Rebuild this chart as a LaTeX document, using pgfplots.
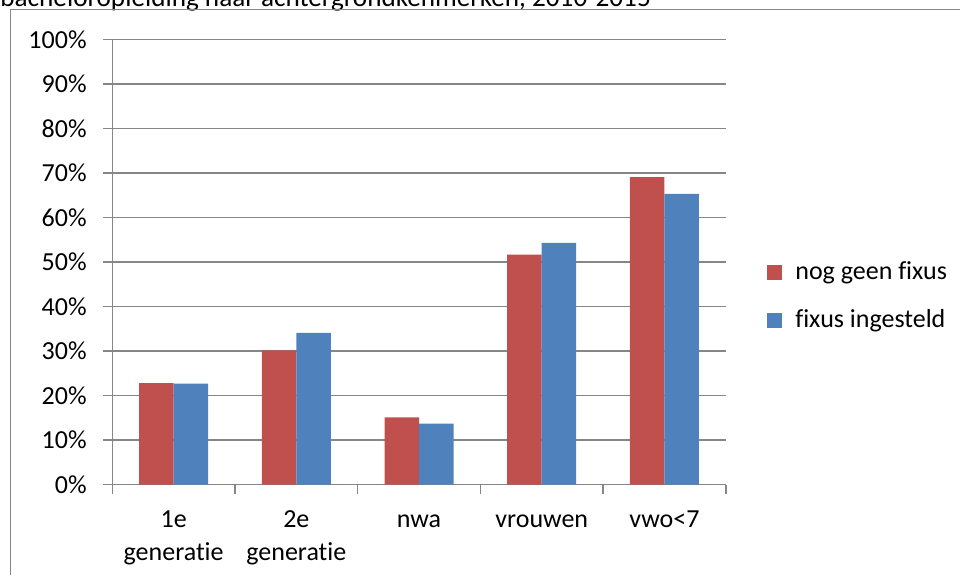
\documentclass[border=0pt]{standalone}
\usepackage{fontspec}
\setmainfont{Carlito}[Ligatures=CommonOff]
\usepackage{pgfplots}
\pgfplotsset{compat=1.18}
\definecolor{xlred}{HTML}{C0504D}
\definecolor{xlblue}{HTML}{4F81BD}
\definecolor{xlgrid}{HTML}{868686}

\begin{document}
\fontsize{13}{16.5}\selectfont
\begin{tikzpicture}
\useasboundingbox (0,0) rectangle (480pt,287.5pt);
% title, cut off at the top as in the source
\node[anchor=base west, inner sep=0pt, font=\fontsize{13.6}{16}\selectfont] at (0pt,284.2pt) {bacheloropleiding naar achtergrondkenmerken, 2010-2015};
% chart frame
\draw[xlgrid, line width=0.5pt] (5.25pt,0pt) -- (5.25pt,282.8pt) -- (480pt,282.8pt);
\begin{axis}[
    at={(56.15pt,45.15pt)}, anchor=south west,
    scale only axis, width=306.75pt, height=222.6pt,
    ybar=0pt, bar width=17.25pt,
    xmin=-0.5, xmax=4.5, ymin=0, ymax=100,
    axis x line*=bottom, axis y line*=left,
    axis line style={xlgrid, line width=0.75pt, -},
    tick style={xlgrid, line width=0.75pt},
    tick align=outside, major tick length=4.5pt,
    xtick={-0.5,0.5,...,4.5}, xticklabels={},
    extra x ticks={0,1,2,3,4},
    % every label has two lines, so that "base" (the last line) lines up
    extra x tick labels={1e\\generatie, 2e\\generatie, nwa\\\phantom{g}, vrouwen\\\phantom{g}, vwo<7\\\phantom{g}},
    extra x tick style={tick style={draw=none}, grid=none},
    xticklabel style={align=center, anchor=base, inner sep=0pt, yshift=-33.3pt},
    ytick={0,10,...,100},
    yticklabels={0\%,10\%,20\%,30\%,40\%,50\%,60\%,70\%,80\%,90\%,100\%},
    yticklabel style={anchor=east, inner sep=0pt, xshift=-8.15pt},
    /pgf/number format/assume math mode=true,
    ymajorgrids, grid style={xlgrid, line width=0.75pt},
    legend style={at={(1.0671,0.4194)}, anchor=west, draw=none, fill=none,
        inner sep=0pt, row sep=12pt,
        nodes={inner sep=0pt, text height=9pt, text depth=3pt}},
    legend cell align=left,
    legend image code/.code={\fill[#1] (0pt,-3pt) rectangle (7.5pt,4.5pt); \path (14pt,0pt);},
]
\addplot[fill=xlred, draw=none] coordinates {(0,22.8) (1,30.2) (2,15.1) (3,51.7) (4,69.1)};
\addplot[fill=xlblue, draw=none] coordinates {(0,22.7) (1,34.1) (2,13.7) (3,54.3) (4,65.3)};
\legend{nog geen fixus, fixus ingesteld}
\end{axis}
\end{tikzpicture}
\end{document}
